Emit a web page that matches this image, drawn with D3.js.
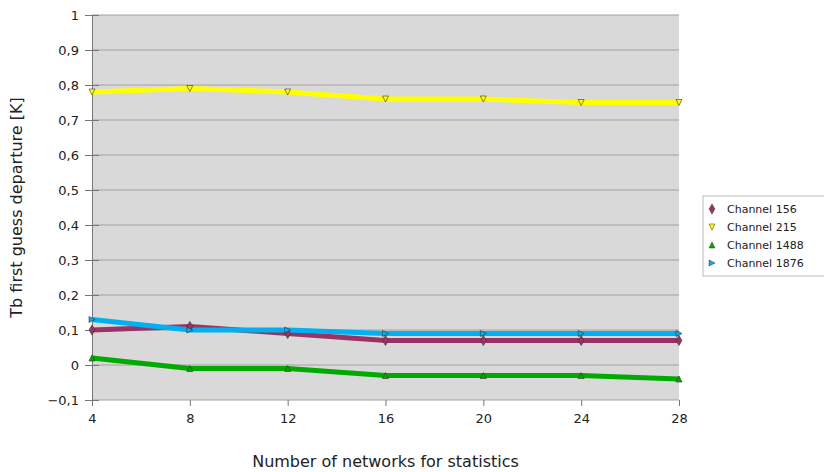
<!DOCTYPE html>
<html>
<head>
<meta charset="utf-8">
<script src="https://cdn.jsdelivr.net/npm/d3@7"></script>
<style>
  body { margin: 0; background: #fff; }
  text { font-family: "DejaVu Sans", sans-serif; }
</style>
</head>
<body>
<svg id="chart" width="824" height="472"></svg>
<script>
// x values = number of networks
var networks = [4, 8, 12, 16, 20, 24, 28];
var yTicks = [-0.1, 0, 0.1, 0.2, 0.3, 0.4, 0.5, 0.6, 0.7, 0.8, 0.9, 1];

var ch156  = [0.10, 0.11, 0.09, 0.07, 0.07, 0.07, 0.07];
var ch215  = [0.78, 0.79, 0.78, 0.76, 0.76, 0.75, 0.75];
var ch1488 = [0.02, -0.01, -0.01, -0.03, -0.03, -0.03, -0.04];
var ch1876 = [0.13, 0.10, 0.10, 0.09, 0.09, 0.09, 0.09];

var seriesNames = ["Channel 156", "Channel 215", "Channel 1488", "Channel 1876"];
var seriesColors = ["#993366", "#ffff00", "#00aa00", "#00b0f0"];
var seriesData = [ch156, ch215, ch1488, ch1876];
var markerTypes = [d3.symbolDiamond, "down", "up", "right"];

var margin = {top: 15, right: 145, bottom: 72, left: 92},
    width = 824 - margin.left - margin.right,
    height = 472 - margin.top - margin.bottom;

var svg = d3.select("#chart");
var g = svg.append("g").attr("transform", "translate(" + margin.left + "," + margin.top + ")");

var x = d3.scaleLinear().domain([4, 28]).range([0, width]);
var y = d3.scaleLinear().domain([-0.1, 1]).range([height, 0]);

// plot background
g.append("rect").attr("width", width).attr("height", height).attr("fill", "#d9d9d9");

// horizontal grid lines
g.selectAll(".grid").data(yTicks).enter().append("line")
    .attr("x1", 0).attr("x2", width)
    .attr("y1", function(d) { return y(d); }).attr("y2", function(d) { return y(d); })
    .attr("stroke", "#a0a0a0").attr("stroke-width", 1);

// y axis
var yAxis = g.append("g")
    .call(d3.axisLeft(y).tickValues(yTicks).tickSize(7).tickPadding(6)
        .tickFormat(function(d) { return d3.format("")(+d.toFixed(1)).replace(".", ","); }));
yAxis.select(".domain").attr("stroke", "#777");
yAxis.selectAll(".tick line").attr("stroke", "#777").attr("x2", 7).attr("x1", -7);
yAxis.selectAll("text").attr("font-size", 13).attr("fill", "#222");

// x axis
var xAxis = g.append("g").attr("transform", "translate(0," + height + ")")
    .call(d3.axisBottom(x).tickValues(networks).tickSize(6).tickPadding(8));
xAxis.select(".domain").remove();
xAxis.selectAll(".tick line").attr("stroke", "#777");
xAxis.selectAll("text").attr("font-size", 13).attr("fill", "#222");

// lines
var line = d3.line()
    .x(function(d, i) { return x(networks[i]); })
    .y(function(d) { return y(d); });

function markerPath(type, size) {
  if (type === "down") return "M-3,-3L3,-3L0,3Z";
  if (type === "up") return "M-3,3L3,3L0,-3Z";
  if (type === "right") return "M-3,-3L3,0L-3,3Z";
  return d3.symbol().type(type).size(size)();
}

seriesData.forEach(function(vals, si) {
  g.append("path").datum(vals)
    .attr("d", line)
    .attr("fill", "none")
    .attr("stroke", seriesColors[si])
    .attr("stroke-width", 5)
    .attr("stroke-linejoin", "round");
});

seriesData.forEach(function(vals, si) {
  g.selectAll(".m" + si).data(vals).enter().append("path")
    .attr("transform", function(d, i) { return "translate(" + x(networks[i]) + "," + y(d) + ")"; })
    .attr("d", markerPath(markerTypes[si], 30))
    .attr("fill", seriesColors[si])
    .attr("stroke", "#333")
    .attr("stroke-width", 0.6);
});

// axis titles
svg.append("text")
    .attr("transform", "translate(22," + (margin.top + height / 2) + ") rotate(-90)")
    .attr("text-anchor", "middle")
    .attr("font-size", 16).attr("fill", "#222")
    .text("Tb first guess departure [K]");

svg.append("text")
    .attr("x", margin.left + width / 2).attr("y", 467)
    .attr("text-anchor", "middle")
    .attr("font-size", 16).attr("fill", "#222")
    .text("Number of networks for statistics");

// legend
var leg = svg.append("g").attr("transform", "translate(703,196)");
leg.append("rect").attr("width", 130).attr("height", 80)
    .attr("fill", "#fff").attr("stroke", "#bbb");
seriesNames.forEach(function(name, si) {
  var row = leg.append("g").attr("transform", "translate(9," + (13 + si * 18) + ")");
  row.append("path").attr("d", markerPath(markerTypes[si], 30))
    .attr("fill", seriesColors[si]).attr("stroke", "#333").attr("stroke-width", 0.5);
  row.append("text").attr("x", 15).attr("y", 4)
    .attr("font-size", 11).attr("fill", "#222").text(name);
});
</script>
</body>
</html>
